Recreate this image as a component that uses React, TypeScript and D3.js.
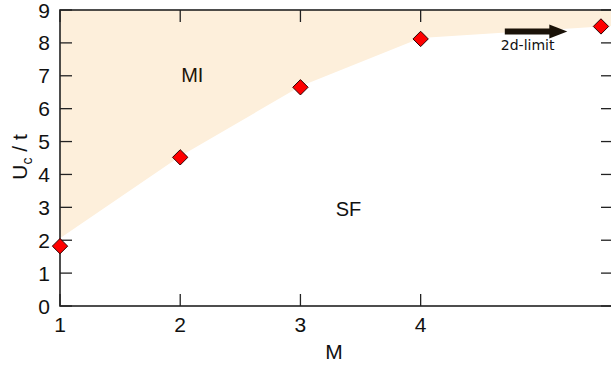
import React from "react";
import * as d3 from "d3";

// M values and critical U_c/t
const mValues = [1, 2, 3, 4, 5.5];
const ucValues = [1.82, 4.52, 6.65, 8.12, 8.5];
// upper edge of the SF region (shade boundary)
const boundaryM = [1, 2, 3, 4, 5.5, 5.62];
const boundaryU = [2.06, 4.55, 6.68, 8.15, 8.5, 8.52];
const xTicks = [1, 2, 3, 4];
const yTicks = [0, 1, 2, 3, 4, 5, 6, 7, 8, 9];

const W = 611;
const H = 366;
const margin = { top: 10, right: -2, bottom: 60, left: 60 };

const App = () => {
  const innerW = W - margin.left - margin.right;
  const innerH = H - margin.top - margin.bottom;
  const x = d3.scaleLinear().domain([1, 5.6]).range([0, innerW]);
  const y = d3.scaleLinear().domain([0, 9]).range([innerH, 0]);

  const shade = d3
    .area<number>()
    .x((d, i) => x(boundaryM[i]))
    .y0(0)
    .y1((d) => y(d));
  const diamond = d3.symbol().type(d3.symbolDiamond2).size(150);
  const axisColor = "#222";
  const tick = 12;

  return (
    <svg
      width={W}
      height={H}
      style={{ position: "absolute", left: 0, top: 0, fontFamily: "'Liberation Sans', Arial, sans-serif" }}
    >
      <g transform={`translate(${margin.left},${margin.top})`}>
        <path d={shade(boundaryU) || ""} fill="#fdefdb" />
        {/* frame */}
        <rect x={0} y={0} width={innerW} height={innerH} fill="none" stroke={axisColor} strokeWidth={1.6} />
        {yTicks.map((t) => (
          <g key={"y" + t}>
            <line x1={0} x2={tick} y1={y(t)} y2={y(t)} stroke={axisColor} strokeWidth={1.3} />
            <line x1={innerW - tick} x2={innerW} y1={y(t)} y2={y(t)} stroke={axisColor} strokeWidth={1.3} />
            <text x={-10} y={y(t)} dy="0.36em" textAnchor="end" fontSize={21} fill="#111">
              {t}
            </text>
          </g>
        ))}
        {xTicks.map((t) => (
          <g key={"x" + t}>
            <line x1={x(t)} x2={x(t)} y1={innerH} y2={innerH - tick} stroke={axisColor} strokeWidth={1.3} />
            <line x1={x(t)} x2={x(t)} y1={0} y2={tick} stroke={axisColor} strokeWidth={1.3} />
            <text x={x(t)} y={innerH + 26} textAnchor="middle" fontSize={21} fill="#111">
              {t}
            </text>
          </g>
        ))}
        {mValues.map((m, i) => (
          <path
            key={"p" + i}
            d={diamond() || ""}
            transform={`translate(${x(m)},${y(ucValues[i])})`}
            fill="#ff0000"
            stroke="#2a0000"
            strokeWidth={1}
          />
        ))}
        <text x={x(2.1)} y={y(6.8)} textAnchor="middle" fontSize={20} fill="#1e1408">
          MI
        </text>
        <text x={x(3.4)} y={y(2.75)} textAnchor="middle" fontSize={20} fill="#111">
          SF
        </text>
        {/* 2d-limit arrow */}
        <line x1={x(4.7)} x2={x(5.08)} y1={y(8.35)} y2={y(8.35)} stroke="#1a1208" strokeWidth={6} />
        <path
          d={`M${x(5.07)},${y(8.35) - 7}L${x(5.22)},${y(8.35)}L${x(5.07)},${y(8.35) + 7}Z`}
          fill="#1a1208"
        />
        <text x={x(4.89)} y={y(7.78)} textAnchor="middle" fontSize={14} fill="#111" fontFamily="'DejaVu Sans', sans-serif">
          2d-limit
        </text>
      </g>
      <text x={334} y={359} textAnchor="middle" fontSize={21} fill="#111">
        M
      </text>
      <text transform={`translate(27,157) rotate(-90)`} textAnchor="middle" fontSize={21} fill="#111">
        U<tspan fontSize={14} dy={5}>c</tspan>
        <tspan dy={-5}> / t</tspan>
      </text>
    </svg>
  );
};

export default App;
